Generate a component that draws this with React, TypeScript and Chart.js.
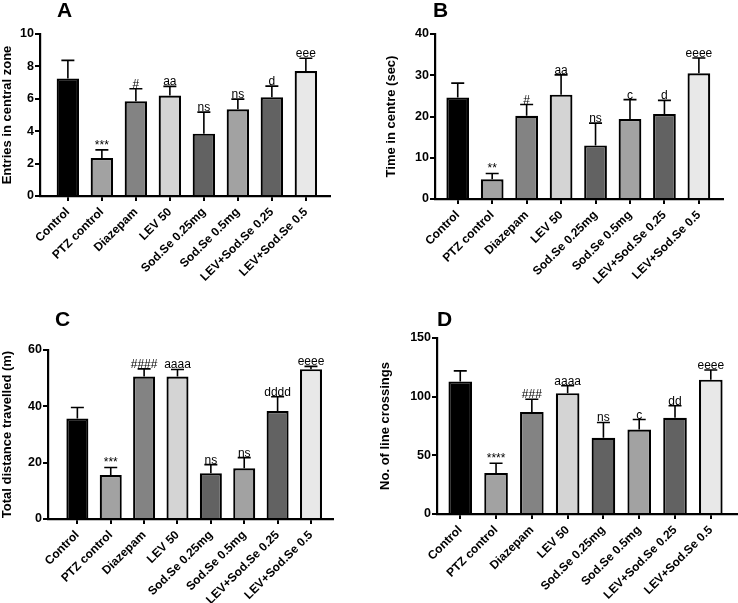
import React, { useEffect, useRef } from "react";
import { Chart, registerables } from "chart.js";

Chart.register(...registerables);

// ---------- data ----------
const categories = [
  "Control",
  "PTZ control",
  "Diazepam",
  "LEV 50",
  "Sod.Se 0.25mg",
  "Sod.Se 0.5mg",
  "LEV+Sod.Se 0.25",
  "LEV+Sod.Se 0.5",
];
const barColors = ["#000000", "#a2a2a2", "#838383", "#d4d4d4", "#626262", "#a2a2a2", "#626262", "#e8e8e8"];

// Panel A: Entries in central zone
const entriesMean = [7.25, 2.35, 5.85, 6.2, 3.85, 5.35, 6.1, 7.72];
const entriesSem = [1.12, 0.5, 0.77, 0.57, 1.33, 0.63, 0.68, 0.78];
const entriesSig = ["", "***", "#", "aa", "ns", "ns", "d", "eee"];
const entriesTicks = [0, 2, 4, 6, 8, 10];

// Panel B: Time in centre (sec)
const timeMean = [24.6, 4.8, 20.2, 25.3, 13.0, 19.4, 20.6, 30.5];
const timeSem = [3.5, 1.4, 2.7, 4.8, 5.4, 4.7, 3.3, 3.7];
const timeSig = ["", "**", "#", "aa", "ns", "c", "d", "eeee"];
const timeTicks = [0, 10, 20, 30, 40];

// Panel C: Total distance travelled (m)
const distMean = [35.7, 15.6, 50.6, 50.6, 16.2, 18.0, 38.3, 53.2];
const distSem = [3.9, 2.7, 2.7, 2.5, 3.1, 3.8, 5.1, 1.0];
const distSig = ["", "***", "####", "aaaa", "ns", "ns", "dddd", "eeee"];
const distTicks = [0, 20, 40, 60];

// Panel D: No. of line crossings
const crossMean = [113, 35, 87, 103, 65, 72, 82, 114.5];
const crossSem = [9, 8.2, 10.8, 6.3, 13, 8.5, 10.2, 8.2];
const crossSig = ["", "****", "###", "aaaa", "ns", "c", "dd", "eeee"];
const crossTicks = [0, 50, 100, 150];

// ---------- layout (positions/styles) ----------
const FONT = "'Liberation Sans', Arial, Helvetica, sans-serif";

type Panel = {
  letter: string;
  title: string;
  mean: number[];
  sem: number[];
  sig: string[];
  ticks: number[];
  left: number;
  top: number;
  w: number;
  h: number;
  area: { l: number; r: number; t: number; b: number };
  titleCenter: number;
  xmin: number;
  xmax: number;
  letterPos: [number, number];
};

const panels: Panel[] = [
  {
    letter: "A",
    title: "Entries in central zone",
    mean: entriesMean,
    sem: entriesSem,
    sig: entriesSig,
    ticks: entriesTicks,
    left: 0,
    top: 0,
    w: 369,
    h: 300,
    area: { l: 40, r: 330, t: 34, b: 196 },
    titleCenter: 7.8,
    xmin: -0.82,
    xmax: 7.71,
    letterPos: [57, 17],
  },
  {
    letter: "B",
    title: "Time in centre (sec)",
    mean: timeMean,
    sem: timeSem,
    sig: timeSig,
    ticks: timeTicks,
    left: 369,
    top: 0,
    w: 369,
    h: 300,
    area: { l: 66, r: 354, t: 34, b: 199 },
    titleCenter: 22,
    xmin: -0.66,
    xmax: 7.7,
    letterPos: [64, 17],
  },
  {
    letter: "C",
    title: "Total distance travelled (m)",
    mean: distMean,
    sem: distSem,
    sig: distSig,
    ticks: distTicks,
    left: 0,
    top: 300,
    w: 369,
    h: 303,
    area: { l: 48, r: 333, t: 50, b: 219 },
    titleCenter: 7.8,
    xmin: -0.88,
    xmax: 7.66,
    letterPos: [55, 26],
  },
  {
    letter: "D",
    title: "No. of line crossings",
    mean: crossMean,
    sem: crossSem,
    sig: crossSig,
    ticks: crossTicks,
    left: 369,
    top: 300,
    w: 369,
    h: 303,
    area: { l: 68, r: 369, t: 38, b: 214 },
    titleCenter: 16,
    xmin: -0.65,
    xmax: 7.76,
    letterPos: [68, 26],
  },
];

function PanelChart({ p }: { p: Panel }) {
  const ref = useRef<HTMLCanvasElement | null>(null);

  useEffect(() => {
    if (!ref.current) return;
    const padLeft = Math.max(0, p.titleCenter - 7.8);
    const errPlugin = {
      id: "errbars" + p.letter,
      afterDatasetsDraw(chart: any) {
        const ctx = chart.ctx;
        const xs = chart.scales.x;
        const ys = chart.scales.y;
        ctx.save();
        ctx.strokeStyle = "#000";
        ctx.lineWidth = 1.6;
        ctx.fillStyle = "#000";
        ctx.font = `12px ${FONT}`;
        ctx.textAlign = "center";
        ctx.textBaseline = "alphabetic";
        p.mean.forEach((m, i) => {
          const x = xs.getPixelForValue(i);
          const yb = ys.getPixelForValue(m);
          const yt = ys.getPixelForValue(m + p.sem[i]);
          ctx.beginPath();
          ctx.moveTo(x, yb);
          ctx.lineTo(x, yt);
          ctx.moveTo(x - 6.5, yt);
          ctx.lineTo(x + 6.5, yt);
          ctx.stroke();
          if (p.sig[i]) ctx.fillText(p.sig[i], x, yt - 1);
        });
        ctx.font = `bold 21px ${FONT}`;
        ctx.textAlign = "left";
        ctx.fillText(p.letter, p.letterPos[0], p.letterPos[1]);
        ctx.restore();
      },
    };

    const chart = new Chart(ref.current, {
      type: "bar",
      data: {
        datasets: [
          {
            data: p.mean.map((v, i) => ({ x: i, y: v })),
            backgroundColor: barColors,
            borderColor: "#000",
            borderWidth: 2.2,
            barPercentage: 0.66,
            categoryPercentage: 1,
          },
        ],
      },
      options: {
        animation: false,
        responsive: false,
        devicePixelRatio: 1,
        layout: {
          padding: { left: padLeft, top: p.area.t, right: p.w - p.area.r, bottom: 0 },
        },
        plugins: {
          legend: { display: false },
          tooltip: { enabled: false },
        },
        scales: {
          x: {
            type: "linear",
            offset: false,
            min: p.xmin,
            max: p.xmax,
            afterBuildTicks: (scale: any) => {
              scale.ticks = categories.map((_, i) => ({ value: i }));
            },
            afterFit: (scale: any) => {
              scale.height = p.h - p.area.b;
            },
            ticks: {
              autoSkip: false,
              minRotation: 45,
              maxRotation: 45,
              padding: 4,
              color: "#000",
              font: { family: FONT, size: 12, weight: "bold" },
              callback: (v: any) => categories[v] ?? "",
            },
            grid: {
              display: true,
              offset: false,
              drawOnChartArea: false,
              drawTicks: true,
              tickLength: 5,
              color: "#000",
              lineWidth: 2,
            },
            border: { display: true, color: "#000", width: 2.2 },
          },
          y: {
            min: p.ticks[0],
            max: p.ticks[p.ticks.length - 1],
            afterBuildTicks: (scale: any) => {
              scale.ticks = p.ticks.map((v) => ({ value: v }));
            },
            afterFit: (scale: any) => {
              scale.width = p.area.l - padLeft;
            },
            ticks: {
              padding: 1,
              color: "#000",
              font: { family: FONT, size: 12.5, weight: "bold" },
            },
            grid: {
              display: true,
              drawOnChartArea: false,
              drawTicks: true,
              tickLength: 5,
              color: "#000",
              lineWidth: 2,
            },
            border: { display: true, color: "#000", width: 2.2 },
            title: {
              display: true,
              text: p.title,
              color: "#000",
              padding: { top: 0, bottom: 0 },
              font: { family: FONT, size: 13, weight: "bold" },
            },
          },
        },
      } as any,
      plugins: [errPlugin],
    });
    return () => chart.destroy();
  }, [p]);

  return (
    <canvas
      ref={ref}
      width={p.w}
      height={p.h}
      style={{ position: "absolute", left: p.left, top: p.top, width: p.w, height: p.h }}
    />
  );
}

export default function App() {
  return (
    <div
      style={{
        position: "absolute",
        left: 0,
        top: 0,
        width: 738,
        height: 603,
        background: "#ffffff",
        overflow: "hidden",
      }}
    >
      {panels.map((p) => (
        <PanelChart key={p.letter} p={p} />
      ))}
    </div>
  );
}
